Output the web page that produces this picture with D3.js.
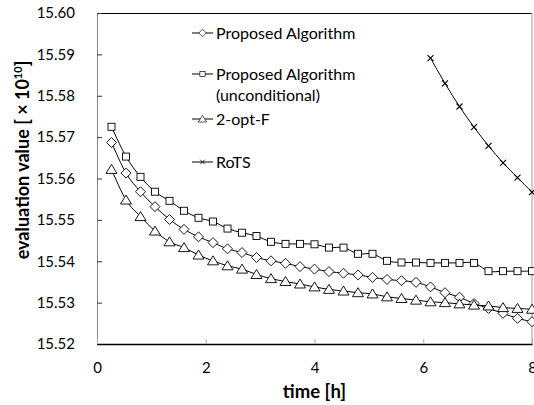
<!DOCTYPE html>
<html>
<head>
<meta charset="utf-8">
<script src="https://cdnjs.cloudflare.com/ajax/libs/d3/7.8.5/d3.min.js"></script>
<style>
  body { margin: 0; background: #fff; }
  text { font-family: Lato, "Open Sans", sans-serif; fill: #000; }
</style>
</head>
<body>
<div id="chart"></div>
<script>
// tiempos: 30 muestras de 0.267 h
const tiempos = d3.range(1, 31).map(k => k * 8 / 30);

const propuesto = [15.5687, 15.5613, 15.5568, 15.5532, 15.5501, 15.5477, 15.5459, 15.5445, 15.5430, 15.5421,
  15.5409, 15.5401, 15.5395, 15.5387, 15.5381, 15.5375, 15.5371, 15.5367, 15.5361, 15.5356,
  15.5353, 15.5349, 15.5338, 15.5324, 15.5313, 15.5298, 15.5286, 15.5274, 15.5262, 15.5254];

const incondicional = [15.5725, 15.5653, 15.5604, 15.5568, 15.5546, 15.5522, 15.5505, 15.5496, 15.5479, 15.5469,
  15.5461, 15.5447, 15.5442, 15.5442, 15.5441, 15.5433, 15.5433, 15.5418, 15.5418, 15.5401,
  15.5397, 15.5397, 15.5396, 15.5396, 15.5396, 15.5396, 15.5376, 15.5376, 15.5376, 15.5376];

const dosOptF = [15.5622, 15.5548, 15.5508, 15.5473, 15.5447, 15.5433, 15.5415, 15.5401, 15.5389, 15.5381,
  15.5368, 15.5358, 15.5351, 15.5345, 15.5338, 15.5332, 15.5328, 15.5324, 15.5321, 15.5314,
  15.5310, 15.5306, 15.5302, 15.5300, 15.5297, 15.5294, 15.5292, 15.5288, 15.5286, 15.5284];

// RoTS solo desde la muestra 23
const rotsInicio = 22;
const rots = [15.5891, 15.5830, 15.5774, 15.5724, 15.5679, 15.5638, 15.5602, 15.5567];

const ticksY = [15.52, 15.53, 15.54, 15.55, 15.56, 15.57, 15.58, 15.59, 15.60];
const ticksX = [0, 2, 4, 6, 8];

const series = [
  { nombre: ["Proposed Algorithm"], valores: propuesto.map((v, i) => ({ x: tiempos[i], y: v })), simbolo: "diamond", leyendaY: 33 },
  { nombre: ["Proposed Algorithm", "(unconditional)"], valores: incondicional.map((v, i) => ({ x: tiempos[i], y: v })), simbolo: "square", leyendaY: 74 },
  { nombre: ["2-opt-F"], valores: dosOptF.map((v, i) => ({ x: tiempos[i], y: v })), simbolo: "triangle", leyendaY: 119 },
  { nombre: ["RoTS"], valores: rots.map((v, i) => ({ x: tiempos[rotsInicio + i], y: v })), simbolo: "cross", leyendaY: 162 }
];

const width = 534, height = 405;
const margin = { top: 13, right: 2, bottom: 61, left: 97 };

const svg = d3.select("#chart").append("svg")
  .attr("width", width)
  .attr("height", height);

const xScale = d3.scaleLinear().domain([0, 8]).range([margin.left, width - margin.right]);
const yScale = d3.scaleLinear().domain([15.52, 15.60]).range([height - margin.bottom, margin.top]);

// Marco del area
svg.append("line").attr("x1", xScale(0)).attr("x2", xScale(8)).attr("y1", yScale(15.60)).attr("y2", yScale(15.60))
  .attr("stroke", "#000").attr("stroke-width", 1).attr("shape-rendering", "crispEdges");
svg.append("line").attr("x1", xScale(8)).attr("x2", xScale(8)).attr("y1", yScale(15.60)).attr("y2", yScale(15.52))
  .attr("stroke", "#bbb").attr("stroke-width", 1.5);

// Ejes
const ejeY = svg.append("g")
  .attr("transform", `translate(${xScale(0)},0)`)
  .call(d3.axisLeft(yScale).tickValues(ticksY).tickFormat(d3.format(".2f")).tickSizeInner(-5).tickSizeOuter(0).tickPadding(22));
ejeY.select(".domain").attr("stroke", "#888");
ejeY.selectAll(".tick line").attr("stroke", "#333");
ejeY.selectAll("text").attr("font-size", 15).style("font-family", "Lato, sans-serif");

const ejeX = svg.append("g")
  .attr("transform", `translate(0,${yScale(15.52)})`)
  .call(d3.axisBottom(xScale).tickValues(ticksX).tickFormat(d3.format("d")).tickSizeInner(-5).tickSizeOuter(0).tickPadding(18));
ejeX.select(".domain").attr("stroke", "#000").attr("stroke-width", 1.3);
ejeX.selectAll(".tick line").attr("stroke", "#aaa");
ejeX.selectAll("text").attr("font-size", 15).style("font-family", "Lato, sans-serif");

// Titulos
svg.append("text")
  .attr("x", (xScale(0) + xScale(8)) / 2)
  .attr("y", 398)
  .attr("text-anchor", "middle")
  .attr("font-size", 18.5)
  .attr("font-weight", "bold")
  .text("time [h]");

const tituloY = svg.append("text")
  .attr("transform", "translate(29,160) rotate(-90)")
  .attr("text-anchor", "middle")
  .attr("font-size", 18)
  .attr("font-weight", "bold");
tituloY.append("tspan").text("evaluation value [ × 10");
tituloY.append("tspan").attr("font-size", 11).attr("dy", -7).text("10");
tituloY.append("tspan").attr("dy", 7).text("]");

// Simbolos
function dibujarSimbolo(g, tipo) {
  if (tipo === "diamond") {
    g.append("path").attr("d", "M0,-5L5,0L0,5L-5,0Z").attr("fill", "#fff").attr("stroke", "#000").attr("stroke-width", 0.9);
  } else if (tipo === "square") {
    g.append("rect").attr("x", -3.5).attr("y", -3.5).attr("width", 7).attr("height", 7)
      .attr("fill", "#fff").attr("stroke", "#000").attr("stroke-width", 0.9);
  } else if (tipo === "triangle") {
    g.append("path").attr("d", "M0,-5L5.5,4L-5.5,4Z").attr("fill", "#fff").attr("stroke", "#000").attr("stroke-width", 0.9);
  } else {
    g.append("path").attr("d", "M-3,-3L3,3M-3,3L3,-3").attr("stroke", "#000").attr("stroke-width", 1.1);
  }
}

const linea = d3.line()
  .x(d => xScale(d.x))
  .y(d => yScale(d.y))
  .curve(d3.curveCatmullRom.alpha(0));

series.forEach(s => {
  svg.append("path")
    .datum(s.valores)
    .attr("d", linea)
    .attr("fill", "none")
    .attr("stroke", "#000")
    .attr("stroke-width", 1);

  svg.append("g").selectAll("g")
    .data(s.valores)
    .enter()
    .append("g")
    .attr("transform", d => `translate(${xScale(d.x)},${yScale(d.y)})`)
    .each(function () { dibujarSimbolo(d3.select(this), s.simbolo); });
});

// Leyenda
series.forEach(s => {
  const g = svg.append("g").attr("transform", `translate(0,${s.leyendaY})`);
  g.append("line").attr("x1", 192).attr("x2", 213).attr("stroke", "#000").attr("stroke-width", 1);
  const m = g.append("g").attr("transform", "translate(202.5,0) scale(0.75)");
  dibujarSimbolo(m, s.simbolo);
  s.nombre.forEach((t, i) => {
    g.append("text")
      .attr("x", 216)
      .attr("y", i * 21)
      .attr("dy", "0.35em")
      .attr("font-size", 16)
      .text(t);
  });
});
</script>
</body>
</html>
